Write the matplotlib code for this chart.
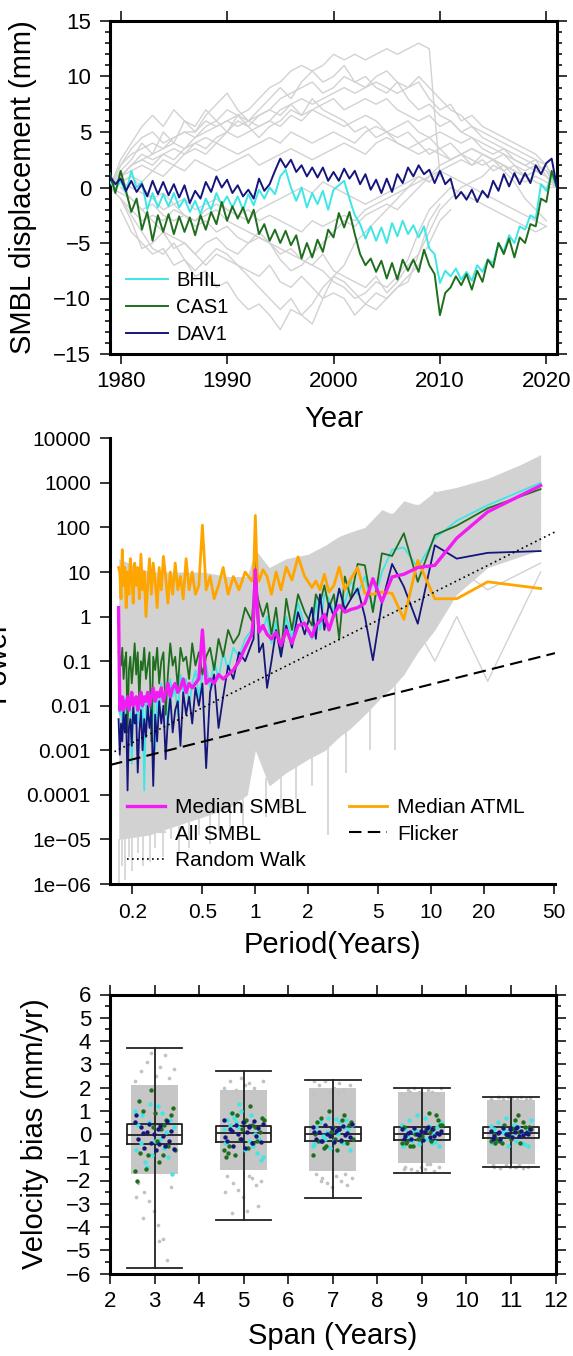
import numpy as np
import matplotlib
matplotlib.use('Agg')
import matplotlib.pyplot as plt
from matplotlib.ticker import MultipleLocator, FixedLocator, NullLocator

plt.rcParams['font.family'] = ['Liberation Sans', 'DejaVu Sans']

nan = np.nan

# ---------------- top panel: SMBL displacement (mm) ----------------
t_half = np.arange(1979.0, 2021.01, 0.5)
years = np.arange(1979, 2022)

bhil = [0.5, -0.2, 0.6, -0.5, 1.5, 0.0, 0.5, -2.0, -0.5, -1.8,
        -0.6, -1.7, -0.5, -1.8, -1.0, -2.2, -1.2, -2.4, -1.0, -2.0,
        -0.5, -1.6, -0.8, -1.8, -0.8, -2.0, -0.6, -1.6, -0.2, -1.0,
        0.0, -0.6, 1.0, 1.6, 0.0, -1.2, 0.0, -1.8, -0.5, -1.5,
        -0.3, -2.0, -0.2, 0.2, 0.6, -1.0, -2.5, -3.3, -4.6, -3.5,
        -4.8, -3.6, -5.0, -3.2, -4.4, -3.0, -4.2, -3.4, -4.5, -3.5,
        -5.5, -6.0, -8.6, -7.5, -8.0, -7.3, -8.3, -7.6, -8.4, -7.0,
        -7.6, -6.5, -6.8, -5.0, -5.8, -4.3, -5.0, -3.5, -3.8, -2.5,
        -2.8, 0.3, -0.3, 1.2, 0.0]
cas1 = [1.3, -0.5, 1.5, -0.3, -2.2, -1.0, -3.8, -2.2, -4.8, -2.5,
        -4.0, -2.4, -4.2, -2.6, -4.0, -2.7, -4.3, -2.5, -3.8, -2.2,
        -3.3, -1.3, -3.0, -1.7, -2.8, -1.8, -3.2, -2.0, -4.2, -3.3,
        -4.8, -3.8, -5.0, -3.9, -5.2, -4.3, -6.4, -5.0, -6.3, -4.7,
        -5.8, -3.8, -4.5, -2.3, -3.6, -2.2, -4.2, -6.0, -7.0, -6.4,
        -7.6, -6.6, -8.2, -6.8, -8.3, -6.5, -7.5, -6.5, -7.6, -5.6,
        -7.0, -7.8, -11.5, -9.5, -9.0, -8.0, -8.8, -7.8, -9.2, -7.5,
        -8.5, -6.5, -7.2, -5.0, -6.0, -4.6, -6.3, -4.5, -5.0, -3.3,
        -3.5, -1.0, -1.3, 1.5, 0.0]
dav1 = [1.0, 0.3, 0.8, -0.3, 0.6, -0.4, 0.3, -0.8, 0.6, -0.6,
        0.5, -0.7, 0.3, -0.9, 0.2, -1.4, -0.3, -1.0, 0.5, -0.4,
        1.0, 0.0, 0.7, -0.5, 0.2, -0.8, -0.2, -1.0, 0.8, -0.3,
        0.3, 1.5, 2.6, 1.8, 2.5, 1.4, 2.0, 1.0, 1.8, 0.9,
        1.8, 0.6, 1.4, 0.6, 1.7, 0.8, 1.5, 0.3, 1.2, -0.2,
        0.7, -0.5, 0.8, -0.4, 1.2, 0.4, 1.8, 1.0, 2.0, 1.2,
        1.6, 0.4, 1.5, 0.3, 0.8, -1.0, -0.4, -1.1, -0.2, -1.3,
        -0.3, -0.9, 0.6, -0.3, 1.2, 0.1, 1.3, 0.3, 1.3, 0.4,
        2.0, 1.2, 2.2, 2.6, 0.0]

# other stations (yearly, 1979-2021)
st01 = [0, 2, 3, 3.5, 4, 3.5, 4.5, 5, 5, 6, 5.5, 6, 6.5, 7, 8, 9, 9.5, 10.5, 11, 10.5,
        11, 12, 11.5, 12, 11.5, 12, 12.5, 12, 12.5, 13, 12.5, 1, nan, nan, nan, nan, nan, nan, nan, nan,
        nan, nan, nan]
st02 = [0, 1, 2, 2.5, 3, 3.5, 4, 3.5, 4.5, 5, 5.5, 6, 5.5, 6, 6.5, 7, 8, 8.5, 9, 9.5,
        8.5, 9, 10, 9.5, 9, 10, 10.5, 9.5, 9, 9.5, 8, 7, 7.5, 6, 6.5, 5.5, 5, 4.5, 4, 3.5,
        3, 2, 0]
st03 = [0, 2, 3.5, 4.5, 5, 4, 4.5, 5, 4.5, 5.5, 6, 7, 6.5, 6, 5.5, 6, 7, 7.5, 6.5, 7,
        7.5, 8, 7, 7.5, 8, 7.5, 8, 7, 6.5, 6, 6.5, 5.5, 6, 5, 5.5, 4.5, 4, 3.5, 3, 2.5,
        2, 1.5, 0]
st04 = [0, 1, 2, 3, 2.5, 3, 3.5, 3, 4, 4.5, 4, 5, 4.5, 5, 5.5, 6, 5.5, 6.5, 6, 7,
        6.5, 6, 5.5, 6, 6.5, 6, 5, 5.5, 6, 5, 4.5, 5, 4.5, 4, 4.5, 3.5, 3, 3.5, 2.5, 2,
        2.5, 1, 0]
st05 = [0, 1, 1.5, 2, 1.5, 2.5, 2, 3, 3.5, 3, 4, 3.5, 3, 3.5, 4, 4.5, 4, 5, 4.5, 4,
        4.5, 5, 4.5, 4, 5, 5.5, 5, 4.5, 5, 4, 4.5, 3.5, 4, 3, 3.5, 3, 2.5, 3, 2, 1.5,
        2, 1.5, 0]
st06 = [0, 0.5, 1, 0.5, 1.5, 1, 2, 1.5, 2.5, 2, 1.5, 2, 2.5, 3, 2, 2.5, 3, 3.5, 3, 2.5,
        3, 3.5, 4, 3.5, 3, 4, 4.5, 4, 3.5, 3, 3.5, 3, 2.5, 3, 2.5, 2, 2.5, 1.5, 2, 1,
        1.5, 2, 0]
st07 = [0, -1, -2, -3, -2.5, -3, -2, -2.5, -3, -2, -1.5, -2, -2.5, -3, -2, -1.5, -1, -0.5, 0, -0.5,
        0.5, 0, -0.5, -1, -1.5, -1, -0.5, 0, 0.5, 1, 0.5, 1.5, 2, 2.5, 2, 3, 2.5, 2, 1.5, 1,
        1.5, 1, 0]
st08 = [nan, -2, -4, -5, -6, -5.5, -7, -6.5, -8, -7.5, -9, -8.5, -10, -11, -10.5, -11.5, -12.8, -11, -11.5, -12.3,
        -10, -8, -7, -5, -4, -3, -2, -1, 0, 1, 0.5, nan, nan, nan, nan, nan, nan, nan, nan, nan,
        nan, nan, nan]
st09 = [nan, -1, -3, -5.5, -5, -4, -4.5, -5, -6, -7, -6, -6.5, -7, -7.5, -8, -7, -8.5, -9, -8, -9,
        -10, -9.5, -10, -11.5, -10.5, -9.5, -10, -9, -8, -7, -5, -3, -2, nan, nan, nan, nan, nan, nan, nan,
        nan, nan, nan]
st10 = [nan, 0, -1, -2, -1.5, -2.5, -3, -2.5, -3.5, -3, -4, -3.5, -4.5, -5, -4.5, -5, -6, -5.5, -6.5, -7,
        -6, -7.5, -8, -8.5, -9, -8, -9.5, -8.5, -7, -6, -4, -2, -1, 0, 0.5, 1, 2, 1.5, 0.5, -1,
        -2, -3, nan]
st11 = [0, 0.5, 0, -0.5, -1, -0.5, -1.5, -1, -2, -1.5, -1, -2, -2.5, -2, -3, -2.5, -3, -3.5, -4, -3,
        -3.5, -3, -2.5, -3, -2, -1.5, -1, -0.5, 0, 0.5, 1, 1.5, 1, 0.5, 0, -0.5, -1, -1.5, -2, -2.5,
        -3, -3.5, nan]
st12 = [0, 1, 2, 2.5, 2, 3, 2.5, 3.5, 4, 3.5, 4.5, 5, 6, 5.5, 6.5, 7, 6.5, 7.5, 8, 7.5,
        8, 8.5, 9, 8.5, 9, 9.5, 9, 8.5, 9, 10, 9, 8, 7, 6.5, 5.5, 5, 4.5, 4, 3.5, 3,
        2.5, 2, 0]
st13 = [nan, 0.5, 1, 0, -1, -2, -1.5, -2.5, -3, -2.5, -2, -3, -3.5, -4, -4.5, -5, -5.5, -6, -6.5, -7,
        -7.5, -8.5, -9, -10, -9.5, -8.5, -9, -8, -6.5, -4, -2, -1, 0, -0.5, -1, -1.5, -2, -2.5, -3, -3.5,
        -4, -3.5, nan]
st14 = [0, 1.5, 2.5, 4, 3, 5, 4, 6, 5.5, 7, 6, 5, 6.5, 5.5, 4.5, 5.5, 6, 7, 6.5, 8,
        7, 6.5, 6, 5, 5.5, 4.5, 5, 4, 3.5, 4, 3, 3.5, 2.5, 3, 2, 2.5, 1.5, 2, 1, 0.5,
        1, 0.5, 0]
st15 = [0, -0.5, -1, -2, -3, -4, -5.5, -5, -6, -5, -4.5, -5.5, -6, -5, -4, -5, -6.5, -7.5, -7, -6,
        -5, -4, -3, -3.5, -2.5, -2, -1.5, -2, -1, 0, 1, 2, 2.5, 3, 3.5, 3, 2.5, 2, 1.5, 1,
        0.5, 0, 0]
st16 = [0, 2.5, 4, 5.5, 6.5, 5.5, 7, 6, 5, 6.5, 7.5, 8.5, 7, 6, 7, 8, 9, 8, 9.5, 10.5,
        9.5, 10, 11, 9.5, 10, 9, 8.5, 9.5, 8, 7, 7.5, 6.5, 6, 5, 4.5, 4, 3.5, 3, 2.5, 2,
        1.5, 1, 0]
st17 = [nan, -1, -2.5, -4, -5.5, -6, -5, -6.5, -7.5, -6.5, -5.5, -6, -7, -8, -9, -10, -11, -10, -11.5, -10.5,
        -9, -8, -8.5, -9.5, -10.5, -11, -10, -9, -8.5, -6, -3, -1.5, nan, nan, nan, nan, nan, nan, nan, nan,
        nan, nan, nan]
other_stations = [st01, st02, st03, st04, st05, st06, st07, st08, st09, st10, st11, st12, st13,
                  st14, st15, st16, st17]

# ---------------- middle panel: power spectra (log10 power) ----------------
record_years = 42.0
k_long = list(range(1, 21)) + list(range(22, 41, 2)) + [41, 42, 43]
k_short = list(range(44, 253, 4))
harmonics = np.array(k_long + k_short)

atml_med = [0.63, 0.78, 0.40, 0.40, 1.26, -0.06, 0.52, 0.55, 0.5, 0.52,
            1.1, 0.85, 0.6, 1.11, 0.7, 0.55, 0.95, 0.6, 0.8, 0.65,
            0.9, 1.34, 0.82, 1.11, 0.6, 1.0, 0.5, 0.9, 1.05, 0.8,
            1.0, 2.27, 0.9,
            0.8, 1.0, 0.6, 0.9, 0.5, 1.1, 0.7, 0.4, 0.9, 0.6,
            2.05, 0.7, 0.5, 1.0, 0.6, 1.3, 0.4, 0.9, 0.6, 1.2,
            0.5, 1.0, 0.3, 0.9, 1.35, 0.6, 1.1, 0.2, 0.8, 1.2,
            0.5, 1.3, 0.7, 0.0, 1.0, 0.6, 1.4, 0.4, 1.1, 0.7,
            1.2, 0.3, 0.9, 1.3, 0.5, 1.0, 0.2, 1.1, 0.7, 1.5,
            0.4, 1.0, 1.1]
smbl_med = [2.94, 2.35, 1.76, 1.15, 1.1, 0.95, 0.89, 0.33, 0.85, 0.3,
            0.2, 0.16, 0.1, 0.25, 0.05, -0.3, 0.05, -0.1, -0.2, -0.45,
            -0.15, -0.2, -0.6, -0.3, -0.65, -0.35, -0.5, -0.4, -0.2, -0.35,
            0.3, 1.05, 0.0,
            -0.4, -0.7, -1.0, -1.2, -1.3, -1.4, -1.3, -1.5, -1.4, -1.5,
            -0.3, -1.4, -1.5, -1.6, -1.5, -1.7, -1.4, -1.6, -1.7, -1.5,
            -1.6, -1.8, -1.5, -1.7, -1.9, -1.6, -1.8, -1.7, -1.9, -1.6,
            -1.8, -2.0, -1.7, -1.9, -1.8, -2.0, -1.7, -1.9, -2.1, -1.8,
            -1.9, -2.0, -1.7, -1.9, -2.1, -1.8, -2.0, -1.9, -2.1, -1.8,
            -2.0, -2.1, 0.2]
cas1_pow = [2.86, 2.43, 2.04, 1.83, 0.78, 1.87, 1.36, 1.42, 0.10, 1.15,
            1.18, 0.4, 0.9, -0.5, 0.5, 0.2, 0.7, 0.3, 0.5, -0.2,
            0.1, 0.5, -0.3, 0.4, -0.8, 0.2, -0.4, 0.3, 0.0, 0.3,
            0.5, 1.6, 0.4,
            -0.1, 0.2, -0.4, -0.6, -0.3, -0.9, -0.5, -1.2, -0.7, -0.9,
            -1.3, -0.8, -1.1, -0.6, -1.4, -0.9, -1.0, -0.7, -1.6, -0.9,
            -1.1, -0.6, -1.3, -2.2, -0.8, -1.0, -1.5, -0.7, -1.2, -0.9,
            -2.8, -0.8, -1.1, -1.4, -0.7, -1.2, -1.0, -1.9, -0.8, -1.3,
            -0.6, -1.1, -1.5, -0.9, -1.2, -2.6, -0.8, -1.0, -1.4, -0.7,
            -1.1, -0.9, -0.8]
bhil_pow = [3.0, 2.5, 2.15, 1.75, 1.1, 1.55, 1.5, 1.0, 0.2, 0.9,
            0.5, 0.8, 0.3, 0.6, 0.1, 0.4, 0.5, -0.3, 0.4, -0.5,
            -0.2, 0.3, -0.5, 0.0, -0.9, -0.1, -0.6, 0.0, -0.3, -0.2,
            0.5, 1.0, -0.2,
            -0.3, -0.5, -0.9, -0.7, -1.2, -0.8, -1.4, -1.0, -1.6, -1.1,
            -1.3, -1.8, -1.2, -1.5, -2.0, -1.4, -1.7, -1.3, -2.2, -1.6,
            -1.8, -1.4, -2.5, -1.7, -1.9, -1.5, -2.1, -1.8, -3.0, -1.6,
            -2.0, -1.7, -2.3, -1.9, -3.9, -1.8, -2.1, -1.6, -2.4, -2.0,
            -1.8, -2.2, -3.3, -1.9, -2.1, -1.7, -2.3, -2.0, -1.8, -2.4,
            -1.9, -2.2, -2.0]
dav1_pow = [1.47, 1.43, 1.30, 1.60, -0.16, 0.67, 1.18, 0.31, -0.98, 0.0,
            0.63, 0.4, 0.16, 0.63, 0.0, 0.3, -0.3, 0.5, -0.5, 0.2,
            -0.4, 0.1, -0.7, -0.2, -0.9, -0.3, -1.0, -1.6, -0.6, -0.8,
            0.2, 0.9, -0.5,
            -0.6, -1.0, -0.8, -1.4, -1.1, -1.8, -2.5, -1.3, -1.7, -3.4,
            -1.5, -2.0, -1.6, -2.4, -1.8, -2.2, -1.7, -2.9, -1.9, -2.1,
            -2.6, -1.8, -2.3, -3.2, -2.0, -2.4, -1.9, -2.8, -2.2, -3.8,
            -2.1, -2.5, -2.0, -2.7, -2.3, -3.0, -2.1, -2.6, -3.5, -2.2,
            -2.4, -2.0, -2.9, -2.3, -2.5, -3.9, -2.2, -2.6, -2.1, -2.8,
            -2.4, -3.1, -2.3]

# envelope of all SMBL spectra
band_period = [42, 21, 14, 10.5, 8.4, 7, 6, 5.25, 4.2, 3.5, 3, 2.5, 2, 1.5, 1.2,
               1.0, 0.9, 0.7, 0.5, 0.35, 0.25, 0.167]
band_hi = [3.6, 3.1, 2.9, 2.8, 2.5, 2.6, 2.3, 2.4, 2.0, 1.9, 1.8, 1.6, 1.4, 1.3, 1.1,
           1.5, 0.9, 0.9, 1.0, 1.0, 1.0, 1.3]
band_lo = [1.5, 1.1, 0.5, -0.3, -0.8, -1.3, -1.6, -1.8, -2.2, -2.5, -2.7, -3.0, -3.2, -3.5, -3.8,
           -3.0, -4.0, -4.3, -4.5, -4.7, -4.9, -5.0]
spike_period = [0.168, 0.175, 0.182, 0.19, 0.2, 0.215, 0.23, 0.25, 0.27, 0.3, 0.33, 0.37, 0.42,
                0.48, 0.55, 0.62, 0.72, 0.85, 1.15, 1.4, 1.7, 2.1, 2.6, 3.3, 4.5, 6.2]
spike_lo = [-6.0, -5.6, -5.9, -5.4, -5.7, -5.3, -5.6, -5.5, -5.2, -5.4, -5.0, -5.3, -5.2,
            -4.9, -5.1, -4.8, -5.0, -4.7, -4.5, -4.3, -4.1, -3.8, -4.9, -3.5, -3.0, -3.0]
# a few individual spectra at the longest periods (harmonics 1..12)
sp1 = [3.6, 3.0, 2.7, 2.5, 2.4, 2.2, 2.0, 1.9, 2.1, 1.8, 1.6, 1.7]
sp2 = [3.2, 2.6, 2.3, 2.8, 2.0, 1.7, 2.3, 1.5, 1.3, 1.6, 1.2, 1.0]
sp3 = [2.6, 2.2, 1.9, 1.5, 2.5, 1.4, 1.0, 1.6, 0.8, 0.9, 1.3, 0.6]
sp4 = [2.2, 1.6, 1.3, 2.0, 1.0, 0.7, 0.9, 0.2, 1.2, 0.4, 0.0, 0.5]
sp5 = [1.8, 1.2, 0.8, 0.3, 0.6, -0.3, 0.2, -0.6, 0.0, -0.8, -0.2, -1.0]
sp6 = [1.0, -1.45, 0.0, -1.0, -0.3, -1.3, -0.6, -1.5, -1.0, -2.0, -1.2, -1.8]
sp7 = [1.2, 0.6, 1.1, 0.6, -0.2, 0.9, -0.5, 0.3, -1.2, -0.1, -0.9, -1.5]
long_spectra = [sp1, sp2, sp3, sp4, sp5, sp6, sp7]

ref_period = [0.149, 50.7]
flicker_pow = [-3.33, -0.82]
rwalk_pow = [-3.08, 1.90]

# ---------------- bottom panel: velocity bias ----------------
spans = [3, 5, 7, 9, 11]
q1 = [-0.43, -0.33, -0.28, -0.24, -0.19]
q3 = [0.43, 0.33, 0.31, 0.28, 0.29]
med = [-0.04, 0.03, 0.02, 0.0, 0.05]
whis_lo = [-5.76, -3.69, -2.76, -1.67, -1.41]
whis_hi = [3.72, 2.72, 2.34, 2.0, 1.61]
cloud_lo = [-1.7, -1.55, -1.6, -1.25, -1.3]
cloud_hi = [2.1, 1.9, 2.0, 1.8, 1.45]
cloud_sparse = [
    [2.3, -2.1, 2.7, -2.5, 3.1, -2.9, 3.5, -3.3, 2.5, -3.9, 2.9, -4.5, 3.4, -5.4, 2.4, -2.3, 2.8, -2.7, -3.6, -4.6],
    [2.0, -1.8, 2.3, -2.1, 1.9, -2.4, 2.4, -2.7, 2.1, -3.3, 2.2, -1.9, 2.0, -2.2, -3.1, -2.0, 2.3, -2.5, -3.4, -1.8],
    [1.7, -1.7, 2.1, -1.9, 2.3, -2.1, 1.8, -2.3, 2.0, -1.8, 2.2, -2.0, 1.9, -1.7, -2.2, 2.1, -1.9, 2.3, -2.0, 1.8],
    [1.7, -1.4, 1.9, -1.5, 2.0, -1.6, 1.8, -1.4, 1.7, -1.5, 1.9, -1.3, 1.8, -1.6, 1.7, -1.4, 2.0, -1.5, 1.8, -1.3],
    [1.5, -1.4, 1.6, -1.45, 1.5, -1.35, 1.6, -1.4, 1.55, -1.4, 1.5, -1.35, 1.6, -1.45, 1.5, -1.4, 1.55, -1.35, 1.6, -1.4],
]
dav1_bias = [
    [0.5, -0.2, 0.3, -0.6, 0.1, 0.45, -0.4, 0.0, -0.7, 0.2, 0.35, -0.1, -0.5, 0.55, -0.3, 0.15, -0.65, 0.8, 0.05, -0.45],
    [0.6, -0.3, 0.2, -0.5, 0.4, 0.0, -0.2, 0.5, -0.6, 0.1, 0.3, -0.4, 0.55, -0.1, 0.25, -0.35, 0.45, -0.15, 0.15, 0.35],
    [0.3, -0.2, 0.1, -0.3, 0.4, 0.0, -0.1, 0.25, -0.35, 0.15, 0.2, -0.25, 0.35, -0.05, 0.05, -0.15, 0.45, 0.1, -0.3, 0.2],
    [0.2, -0.1, 0.05, -0.2, 0.25, 0.0, -0.05, 0.15, -0.25, 0.1, 0.3, -0.15, 0.2, -0.1, 0.05, 0.0, 0.15, -0.2, 0.1, 0.25],
    [0.15, -0.1, 0.05, -0.2, 0.25, 0.0, -0.05, 0.2, -0.15, 0.1, 0.3, -0.1, 0.15, -0.05, 0.05, 0.0, 0.2, -0.2, 0.1, 0.25],
]
cas1_bias = [
    [1.1, -0.8, 0.6, -1.5, 0.2, 1.9, -0.3, -1.6, 0.8, -0.9, 0.4, -2.0, 0.9, -0.5, 1.0, -1.2, 0.3, -0.7, 1.4, -0.9],
    [0.7, -0.5, 0.3, -0.9, 1.2, -0.2, 0.6, -0.7, 0.1, 0.8, -0.4, -1.0, 0.5, -0.3, 0.9, -0.6, 0.2, 0.6, -0.8, 0.4],
    [0.5, -0.3, 0.8, -0.6, 0.2, 1.0, -0.2, -0.9, 0.4, -0.5, 0.6, 0.0, 0.3, -0.4, 0.7, -0.7, 0.1, -0.2, 0.5, -0.3],
    [0.4, -0.3, 0.2, -0.5, 0.9, -0.2, 0.1, -0.4, 0.6, 0.0, -0.3, 0.3, -0.1, 0.8, -0.5, 0.2, -0.2, 0.4, -0.4, 0.1],
    [0.3, -0.2, 0.5, -0.4, 0.8, -0.1, 0.2, -0.3, 0.1, 0.4, -0.4, 0.0, -0.2, 0.3, -0.3, 0.6, -0.1, 0.2, -0.4, 0.1],
]
bhil_bias = [
    [1.3, -0.6, 0.4, -1.7, 0.8, -0.2, 1.0, -1.0, -1.4, 0.3, -0.9, 0.6, -0.4, 1.2, -1.2, 0.1, -0.7, 0.9, -0.3, 0.5],
    [1.3, -0.5, 0.6, -1.1, 0.9, -0.3, 0.2, -0.8, 0.5, -1.0, 1.0, -0.2, 0.4, -0.6, 0.7, 0.0, -0.4, 0.8, -0.7, 0.3],
    [0.7, -0.4, 0.3, -0.7, 0.5, 0.0, -0.5, 0.6, -0.2, 0.4, -0.6, 0.2, -0.3, 0.65, -0.1, 0.3, -0.45, 0.5, -0.25, 0.1],
    [0.8, -0.4, 0.2, -0.5, 0.6, -0.2, 0.4, -0.35, 0.1, 0.5, -0.45, 0.3, -0.1, 0.7, -0.3, 0.0, -0.5, 0.35, -0.2, 0.15],
    [0.7, -0.4, 0.2, -0.5, 0.5, -0.3, 0.35, -0.45, 0.1, 0.6, -0.5, 0.25, -0.2, 0.4, -0.35, 0.0, -0.4, 0.3, -0.1, 0.15],
]
# horizontal jitter of the plotted points
jit_a = [-0.44, -0.37, -0.3, -0.24, -0.18, -0.12, -0.07, -0.02, 0.03, 0.08,
         0.13, 0.18, 0.23, 0.28, 0.33, 0.38, 0.43, -0.41, -0.27, 0.11]
jit_b = [0.41, -0.33, 0.26, -0.2, 0.15, -0.09, 0.05, -0.45, 0.36, -0.15,
         0.21, -0.39, 0.0, 0.31, -0.26, 0.09, -0.04, 0.45, -0.35, 0.18]
jit_c = [-0.1, 0.22, -0.38, 0.39, -0.28, 0.12, -0.45, 0.3, -0.17, 0.44,
         -0.06, 0.34, -0.31, 0.07, -0.22, 0.25, -0.42, 0.16, 0.02, -0.13]

c_cyan = '#3ee6e6'
c_green = '#1e6e1e'
c_navy = '#15157c'
c_mag = '#f21cf2'
c_orange = '#ffa500'
c_grey = '#d2d2d2'

W, H = 573, 1356
fig = plt.figure(figsize=(W / 100, H / 100), dpi=100)


def style_box(ax):
    for s in ax.spines.values():
        s.set_linewidth(2.2)
    ax.tick_params(which='both', direction='out', top=True, right=True, width=1.1, labelsize=16)
    ax.tick_params(which='major', length=7)
    ax.tick_params(which='minor', length=3.6)
    ax.tick_params(axis='y', pad=6.5)
    ax.tick_params(axis='x', pad=5.5)


# ---- top
ax1 = fig.add_axes([110 / W, 1 - 354 / H, 447 / W, 333 / H])
for st in other_stations:
    ax1.plot(years, st, color=c_grey, lw=1.0, zorder=1)
ax1.plot(t_half, bhil, color=c_cyan, lw=1.4, label='BHIL', zorder=3)
ax1.plot(t_half, cas1, color=c_green, lw=1.4, label='CAS1', zorder=4)
ax1.plot(t_half, dav1, color=c_navy, lw=1.4, label='DAV1', zorder=5)
ax1.set_xlim(1979, 2021)
ax1.set_ylim(-15, 15)
ax1.set_xticks([1980, 1990, 2000, 2010, 2020])
ax1.yaxis.set_major_locator(MultipleLocator(5))
ax1.yaxis.set_minor_locator(MultipleLocator(1))
style_box(ax1)
ax1.set_xlabel('Year', fontsize=21)
ax1.xaxis.set_label_coords(0.5, (354 - 405) / 333)
ax1.set_ylabel('SMBL displacement (mm)', fontsize=21)
ax1.yaxis.set_label_coords((37 - 110) / 447, 0.5)
ax1.legend(loc='upper left', bbox_to_anchor=(0.036, 0.249), frameon=False, fontsize=14.5,
           handlelength=2.1, handletextpad=0.4, labelspacing=0.4, borderaxespad=0, borderpad=0)

# ---- middle
ax2 = fig.add_axes([110 / W, 1 - 884 / H, 445 / W, 445.7 / H])
ax2.set_xscale('log')
ax2.set_yscale('log')
periods = record_years / harmonics
band_p = np.array(band_period)
ax2.fill_between(band_p, 10.0 ** np.array(band_lo), 10.0 ** np.array(band_hi), color=c_grey, lw=0, zorder=1)
spike_top = np.interp(np.log10(spike_period), np.log10(band_p[::-1]), np.array(band_lo)[::-1])
ax2.vlines(spike_period, 10.0 ** np.array(spike_lo), 10.0 ** spike_top, color=c_grey, lw=1.2, zorder=1)
for sp in long_spectra:
    ax2.plot(periods[:12], 10.0 ** np.array(sp), color=c_grey, lw=1.0, zorder=1)
h_all, = ax2.plot([], [], color=c_grey, lw=1.5, label='All SMBL')
h_rw, = ax2.plot(ref_period, 10.0 ** np.array(rwalk_pow), color='black', lw=1.2, ls=(0, (1, 2)),
                 label='Random Walk', zorder=6)
h_fl, = ax2.plot(ref_period, 10.0 ** np.array(flicker_pow), color='black', lw=1.5, ls=(0, (6, 3)),
                 label='Flicker', zorder=6)
ax2.plot(periods, 10.0 ** np.array(bhil_pow), color=c_cyan, lw=1.3, zorder=3)
ax2.plot(periods, 10.0 ** np.array(cas1_pow), color=c_green, lw=1.3, zorder=4)
ax2.plot(periods, 10.0 ** np.array(dav1_pow), color=c_navy, lw=1.3, zorder=4)
h_atml, = ax2.plot(periods, 10.0 ** np.array(atml_med), color=c_orange, lw=2.0, label='Median ATML', zorder=5)
h_smbl, = ax2.plot(periods, 10.0 ** np.array(smbl_med), color=c_mag, lw=2.4, label='Median SMBL', zorder=5)
ax2.set_xlim(0.149, 50.7)
ax2.set_ylim(1e-6, 1e4)
for s in ['top', 'right']:
    ax2.spines[s].set_visible(False)
for s in ['left', 'bottom']:
    ax2.spines[s].set_linewidth(2.2)
ax2.xaxis.set_major_locator(FixedLocator([0.2, 0.5, 1, 2, 5, 10, 20, 50]))
ax2.xaxis.set_minor_locator(NullLocator())
ax2.set_xticklabels(['0.2', '0.5', '1', '2', '5', '10', '20', '50'])
ax2.yaxis.set_major_locator(FixedLocator([10.0 ** e for e in range(-6, 5)]))
ax2.yaxis.set_minor_locator(NullLocator())
ax2.set_yticklabels(['1e\u221206', '1e\u221205', '0.0001', '0.001', '0.01', '0.1', '1', '10',
                     '100', '1000', '10000'])
ax2.tick_params(which='both', direction='out', width=1.1, length=7.2, labelsize=15)
ax2.tick_params(axis='y', pad=6.5)
ax2.tick_params(axis='x', pad=6.5)
ax2.set_xlabel('Period(Years)', fontsize=21)
ax2.xaxis.set_label_coords(0.5, (884 - 931) / 445.7)
ax2.set_ylabel('Power', fontsize=21)
ax2.yaxis.set_label_coords((11 - 110) / 445, 0.5)
ax2.legend(handles=[h_smbl, h_all, h_rw, h_atml, h_fl], ncol=2, loc='upper left',
           bbox_to_anchor=(0.0375, 0.193), frameon=False, fontsize=15, handlelength=1.85,
           handletextpad=0.48, labelspacing=0.37, columnspacing=2.0, borderaxespad=0, borderpad=0)

# ---- bottom
ax3 = fig.add_axes([110 / W, 1 - 1273.5 / H, 445.5 / W, 279 / H])
ax3.bar(spans, np.array(cloud_hi) - np.array(cloud_lo), bottom=cloud_lo, width=1.06,
        color='#c6c6c6', lw=0, zorder=1)
for i, sp in enumerate(spans):
    ax3.scatter(sp + np.array(jit_a), cloud_sparse[i], s=7, color='#c2c2c2', lw=0, zorder=1)
stats = [dict(med=med[i], q1=q1[i], q3=q3[i], whislo=whis_lo[i], whishi=whis_hi[i])
         for i in range(len(spans))]
lp = dict(color='#222222', lw=1.3)
ax3.bxp(stats, positions=spans, widths=1.25, capwidths=1.25, showfliers=False,
        boxprops=lp, medianprops=lp, whiskerprops=lp, capprops=lp, manage_ticks=False, zorder=3)
ax3.vlines(spans, q1, q3, color='#222222', lw=1.3, zorder=3)
for i, sp in enumerate(spans):
    ax3.scatter(sp + np.array(jit_c), bhil_bias[i], s=10, color=c_cyan, lw=0, zorder=4)
    ax3.scatter(sp + np.array(jit_b), cas1_bias[i], s=10, color=c_green, lw=0, zorder=4)
    ax3.scatter(sp + np.array(jit_a), dav1_bias[i], s=10, color=c_navy, lw=0, zorder=5)
ax3.set_xlim(2, 12)
ax3.set_ylim(-6, 6)
ax3.xaxis.set_major_locator(MultipleLocator(1))
ax3.yaxis.set_major_locator(MultipleLocator(1))
ax3.yaxis.set_minor_locator(MultipleLocator(0.5))
style_box(ax3)
ax3.set_xlabel('Span (Years)', fontsize=21)
ax3.xaxis.set_label_coords(0.5, (1273.5 - 1322) / 279)
ax3.set_ylabel('Velocity bias (mm/yr)', fontsize=21)
ax3.yaxis.set_label_coords((49 - 110) / 445.5, 0.5)

fig.savefig('out.png', dpi=100)
